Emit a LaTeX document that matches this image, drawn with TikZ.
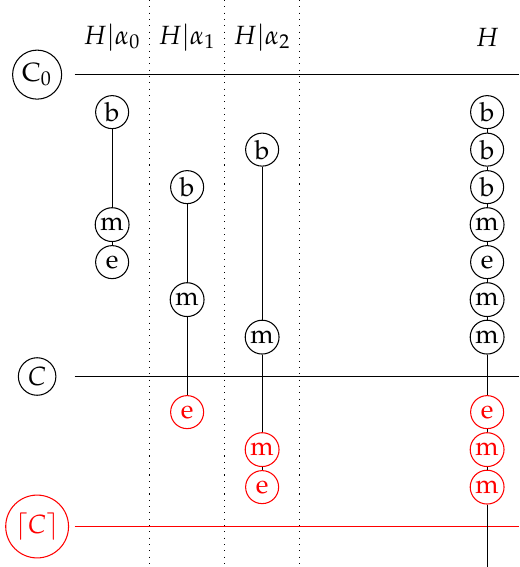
\documentclass[tikz,border=0pt]{standalone}
\usepackage[T1]{fontenc}
\usepackage{mathpazo}
\renewcommand{\rmdefault}{pplx}
\usepackage{tikz}
\usetikzlibrary{positioning}

\begin{document}
\begin{tikzpicture}[x=5mm,y=5mm,
  st/.style={draw,circle,inner sep=1pt,minimum size=4.4mm},
  cut/.style={draw,circle,inner sep=1.5pt},
  lost/.style={red},
  sep/.style={dotted}]
\useasboundingbox (-0.99,1.99) rectangle (12.85,-13.13);

% column heads
\node (h0) at (2,1)  {$H|\alpha_0$};
\node (h1) at (4,1)  {$H|\alpha_1$};
\node (h2) at (6,1)  {$H|\alpha_2$};
\node (hh) at (12,1) {$H$};

% separators between the columns
\foreach \x in {3,5,7}
  \draw[sep] (\x,1.99) -- (\x,-13.13);

% cuts
\node[cut] (c0) at (0,0) {C$_0$};
\node[cut] (c)  at (0,-8.05) {$C$};
\node[cut,lost] (cc) at (0,-12.05) {$\lceil C\rceil$};
\coordinate (c0l) at (1,0);   \coordinate (c0r) at (12.85,0);
\coordinate (cl)  at (1,-8.05);  \coordinate (cr)  at (12.85,-8.05);
\coordinate (ccl) at (1,-12.05); \coordinate (ccr) at (12.85,-12.05);
\draw (c0l) -- (c0r);
\draw (cl) -- (cr);
\draw[lost] (ccl) -- (ccr);

% H|alpha_0
\node[st] (a0b) at (2,-1) {b};
\node[st] (a0m) at (2,-4) {m};
\node[st] (a0e) at (2,-5) {e};
\draw (a0b) -- (a0m) -- (a0e);

% H|alpha_1
\node[st] (a1b) at (4,-3) {b};
\node[st] (a1m) at (4,-6) {m};
\node[st,lost] (a1e) at (4,-9) {e};
\draw (a1b) -- (a1m) -- (a1e);

% H|alpha_2
\node[st] (a2b) at (6,-2) {b};
\node[st] (a2m) at (6,-7) {m};
\node[st,lost] (a2m2) at (6,-10) {m};
\node[st,lost] (a2e) at (6,-11) {e};
\draw (a2b) -- (a2m) -- (a2m2) -- (a2e);

% H
\foreach \lab [count=\i] in {b,b,b,m,e,m,m}
  \node[st] (s\i) at (12,-\i) {\lab};
\node[st,lost] (s8)  at (12,-9)  {e};
\node[st,lost] (s9)  at (12,-10) {m};
\node[st,lost] (s10) at (12,-11) {m};
\coordinate (send) at (12,-13.13);
\foreach \i [evaluate=\i as \j using int(\i+1)] in {1,...,9}
  \draw (s\i) -- (s\j);
\draw (s10) -- (send);
\end{tikzpicture}
\end{document}
